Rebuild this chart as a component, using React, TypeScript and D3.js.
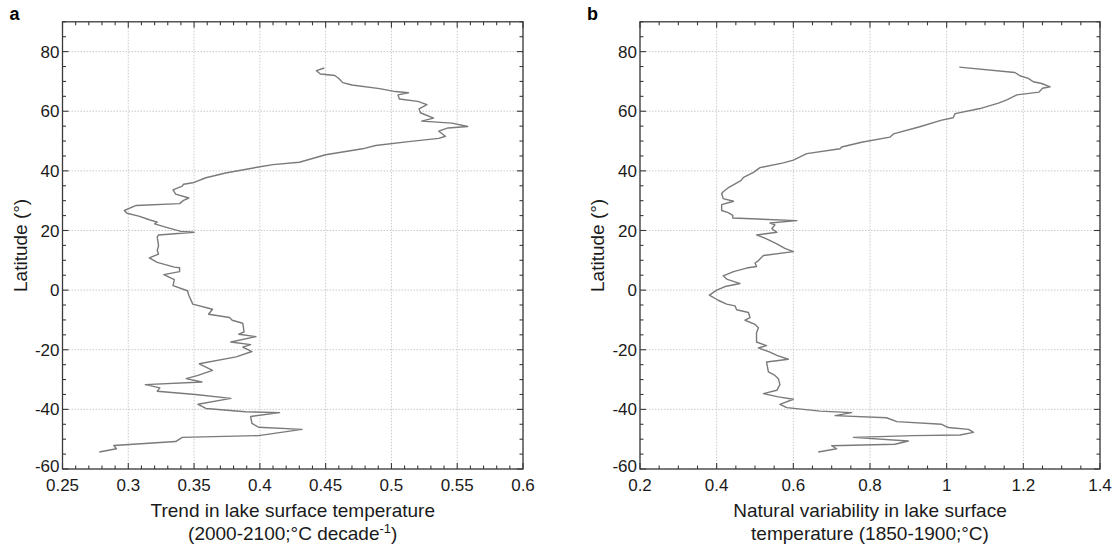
import React from "react";
import * as d3 from "d3";

// Panel a: latitude vs trend in lake surface temperature (°C decade^-1)
const latA = [74.5, 73.6, 72.5, 72.0, 71.0, 69.6, 68.8, 67.6, 66.6, 66.2, 65.5, 64.1, 63.3, 62.2, 60.8, 59.5, 57.7, 56.7, 56.0, 54.9, 54.4, 53.3, 51.6, 50.9, 49.8, 48.5, 47.4, 45.4, 42.9, 42.1, 41.3, 39.3, 37.7, 36.0, 35.5, 34.9, 33.6, 32.2, 30.9, 30.1, 29.0, 28.4, 26.7, 25.8, 24.8, 23.6, 22.8, 22.2, 20.8, 19.7, 19.4, 18.5, 17.8, 14.9, 13.3, 12.1, 10.8, 9.3, 7.7, 7.5, 6.2, 5.2, 3.5, 1.5, -0.2, -1.7, -4.7, -6.4, -8.1, -9.2, -10.1, -11.1, -14.0, -14.8, -15.6, -17.4, -18.3, -19.1, -20.6, -22.4, -24.7, -26.9, -28.6, -29.7, -30.8, -31.7, -32.8, -33.9, -35.0, -36.3, -38.3, -39.7, -40.8, -41.1, -42.4, -44.7, -46.0, -46.7, -48.8, -49.4, -50.8, -52.1, -53.2, -54.3];
const trendA = [0.449, 0.443, 0.446, 0.457, 0.460, 0.463, 0.470, 0.491, 0.503, 0.513, 0.505, 0.506, 0.520, 0.527, 0.521, 0.522, 0.532, 0.523, 0.546, 0.558, 0.543, 0.536, 0.541, 0.536, 0.513, 0.488, 0.478, 0.450, 0.430, 0.410, 0.399, 0.374, 0.359, 0.349, 0.342, 0.341, 0.334, 0.336, 0.346, 0.342, 0.339, 0.306, 0.297, 0.299, 0.308, 0.316, 0.322, 0.320, 0.331, 0.340, 0.350, 0.323, 0.322, 0.323, 0.322, 0.323, 0.316, 0.322, 0.335, 0.339, 0.339, 0.327, 0.335, 0.334, 0.345, 0.346, 0.349, 0.364, 0.361, 0.377, 0.379, 0.387, 0.388, 0.384, 0.397, 0.378, 0.393, 0.387, 0.394, 0.382, 0.354, 0.364, 0.353, 0.344, 0.356, 0.313, 0.324, 0.322, 0.351, 0.378, 0.353, 0.359, 0.389, 0.415, 0.393, 0.394, 0.399, 0.432, 0.399, 0.341, 0.336, 0.289, 0.291, 0.278];

// Panel b: latitude vs natural variability (°C)
const latB = [74.8, 73.0, 71.9, 71.0, 69.9, 69.3, 68.2, 67.7, 66.4, 65.5, 63.8, 62.7, 60.9, 59.2, 57.8, 57.0, 54.8, 52.4, 51.3, 49.6, 48.0, 47.4, 45.8, 43.6, 42.7, 41.1, 39.5, 37.8, 36.7, 34.5, 33.0, 32.4, 30.7, 29.8, 28.7, 26.7, 26.0, 25.1, 24.2, 23.3, 22.5, 21.9, 20.6, 19.4, 18.5, 17.2, 15.5, 14.0, 12.9, 11.6, 9.9, 9.1, 7.9, 7.4, 6.2, 4.8, 3.7, 2.2, 1.2, 0.0, -1.7, -3.4, -4.7, -5.3, -6.6, -7.5, -9.2, -10.1, -11.5, -12.6, -14.3, -17.4, -18.6, -19.4, -20.8, -21.9, -23.2, -24.1, -27.4, -28.6, -29.7, -31.7, -33.6, -34.7, -35.8, -36.6, -38.3, -39.4, -40.6, -41.1, -42.1, -42.8, -44.1, -45.0, -46.1, -46.7, -47.7, -48.6, -48.8, -49.4, -50.6, -51.7, -52.2, -53.2, -54.3];
const varB = [1.033, 1.178, 1.191, 1.213, 1.226, 1.248, 1.270, 1.250, 1.241, 1.183, 1.157, 1.135, 1.087, 1.022, 1.017, 0.987, 0.930, 0.861, 0.852, 0.778, 0.726, 0.722, 0.635, 0.600, 0.574, 0.513, 0.496, 0.470, 0.463, 0.432, 0.417, 0.413, 0.417, 0.444, 0.413, 0.413, 0.430, 0.442, 0.442, 0.609, 0.539, 0.552, 0.544, 0.557, 0.504, 0.530, 0.557, 0.578, 0.600, 0.522, 0.509, 0.500, 0.504, 0.478, 0.444, 0.417, 0.426, 0.461, 0.422, 0.400, 0.381, 0.404, 0.426, 0.448, 0.452, 0.483, 0.487, 0.474, 0.500, 0.509, 0.504, 0.504, 0.530, 0.509, 0.539, 0.557, 0.587, 0.530, 0.535, 0.552, 0.561, 0.565, 0.557, 0.522, 0.561, 0.600, 0.565, 0.583, 0.670, 0.752, 0.709, 0.843, 0.870, 0.987, 1.004, 1.057, 1.070, 1.035, 0.913, 0.757, 0.900, 0.865, 0.700, 0.713, 0.665];

const yTickLabels = [80, 60, 40, 20, 0, -20, -40, -60];
const xTicksA = [0.25, 0.3, 0.35, 0.4, 0.45, 0.5, 0.55, 0.6];
const xTicksB = [0.2, 0.4, 0.6, 0.8, 1.0, 1.2, 1.4];

const FONT = "'Liberation Sans', Arial, Helvetica, sans-serif";

type PanelProps = {
  x0: number; x1: number; y0: number; y1: number;
  xDomain: [number, number]; xTicks: number[]; xMinorStep: number;
  lats: number[]; vals: number[];
  letter: string; label1: React.ReactNode; label2: React.ReactNode;
};

function Panel(p: PanelProps) {
  const x = d3.scaleLinear().domain(p.xDomain).range([p.x0, p.x1]);
  const y = d3.scaleLinear().domain([-60, 90]).range([p.y1, p.y0]);
  const pts: [number, number][] = p.lats.map((l, i) => [p.vals[i], l]);
  const line = d3.line<[number, number]>().x((d) => x(d[0])).y((d) => y(d[1]));
  const yMinor = d3.range(-60, 90.001, 5);
  const nMinor = Math.round((p.xDomain[1] - p.xDomain[0]) / p.xMinorStep);
  const xMinor = d3.range(0, nMinor + 1).map((i) => p.xDomain[0] + i * p.xMinorStep);
  const isMajorX = (v: number) => p.xTicks.some((t) => Math.abs(t - v) < 1e-6);
  const gridColor = "#c4c4c4";
  const frame = "#3a3a3a";
  const midY = (p.y0 + p.y1) / 2;
  const midX = (p.x0 + p.x1) / 2;
  return (
    <g>
      {yTickLabels.map((t) => (
        <line key={"gy" + t} x1={p.x0} x2={p.x1} y1={y(t)} y2={y(t)} stroke={gridColor} strokeWidth={0.9} strokeDasharray="1.5,1.5" />
      ))}
      {p.xTicks.map((t) => (
        <line key={"gx" + t} x1={x(t)} x2={x(t)} y1={p.y0} y2={p.y1} stroke={gridColor} strokeWidth={0.9} strokeDasharray="1.5,1.5" />
      ))}
      <path d={line(pts) || ""} fill="none" stroke="#7a7a7a" strokeWidth={1.4} strokeLinejoin="round" />
      {yMinor.map((t) => {
        const major = Math.round(t) % 20 === 0;
        const len = major ? 6 : 3.5;
        return (
          <g key={"ty" + t}>
            <line x1={p.x0} x2={p.x0 + len} y1={y(t)} y2={y(t)} stroke={frame} strokeWidth={1.1} />
            <line x1={p.x1} x2={p.x1 - len} y1={y(t)} y2={y(t)} stroke={frame} strokeWidth={1.1} />
          </g>
        );
      })}
      {xMinor.map((t, i) => {
        const len = isMajorX(t) ? 6 : 3.5;
        return (
          <g key={"tx" + i}>
            <line x1={x(t)} x2={x(t)} y1={p.y1} y2={p.y1 - len} stroke={frame} strokeWidth={1.1} />
            <line x1={x(t)} x2={x(t)} y1={p.y0} y2={p.y0 + len} stroke={frame} strokeWidth={1.1} />
          </g>
        );
      })}
      <rect x={p.x0} y={p.y0} width={p.x1 - p.x0} height={p.y1 - p.y0} fill="none" stroke={frame} strokeWidth={1.3} />
      {yTickLabels.map((t) => (
        <text key={"ly" + t} x={p.x0 - 3} y={y(t)} dy={t === -60 ? "0.2em" : "0.36em"} textAnchor="end" fontSize={17} fill="#1a1a1a">{t}</text>
      ))}
      {p.xTicks.map((t) => (
        <text key={"lx" + t} x={x(t)} y={p.y1 + 22} textAnchor="middle" fontSize={17} fill="#1a1a1a">{String(t)}</text>
      ))}
      <text x={midX} y={p.y1 + 48} textAnchor="middle" fontSize={19} fill="#1a1a1a">{p.label1}</text>
      <text x={midX} y={p.y1 + 71} textAnchor="middle" fontSize={19} fill="#1a1a1a">{p.label2}</text>
      <text transform={`translate(${p.x0 - 36},${midY}) rotate(-90)`} textAnchor="middle" fontSize={19} fill="#1a1a1a">Latitude (°)</text>
      <text x={p.x0 - 53} y={p.y0 - 2} fontSize={18} fontWeight="bold" fill="#000">{p.letter}</text>
    </g>
  );
}

export default function App() {
  return (
    <svg width={1116} height={555} style={{ position: "absolute", left: 0, top: 0, background: "#fff" }} fontFamily={FONT}>
      <Panel x0={62.5} x1={523} y0={21.8} y1={469} xDomain={[0.25, 0.6]} xTicks={xTicksA} xMinorStep={0.01}
        lats={latA} vals={trendA} letter="a"
        label1="Trend in lake surface temperature"
        label2={<>(2000-2100;°C decade<tspan dy="-7" fontSize={13}>-1</tspan><tspan dy="7">)</tspan></>} />
      <Panel x0={640} x1={1100} y0={21.8} y1={469} xDomain={[0.2, 1.4]} xTicks={xTicksB} xMinorStep={0.05}
        lats={latB} vals={varB} letter="b"
        label1="Natural variability in lake surface"
        label2="temperature (1850-1900;°C)" />
    </svg>
  );
}
